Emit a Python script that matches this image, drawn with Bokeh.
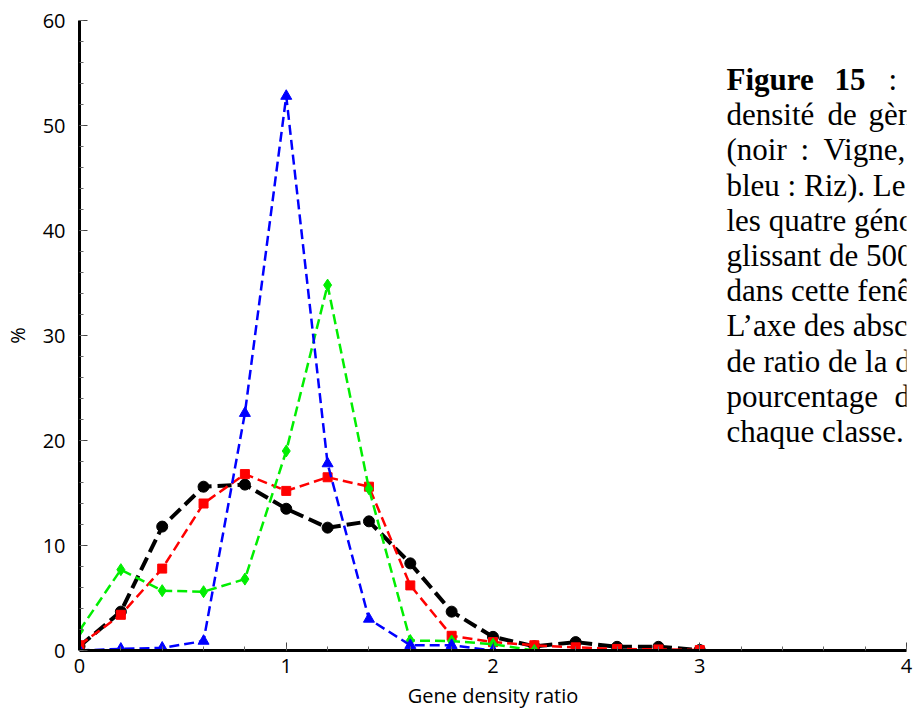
from bokeh.plotting import figure
from bokeh.models import Range1d, Label, SingleIntervalTicker
from bokeh.embed import file_html
from bokeh.resources import INLINE

# ---- data ----
x_vigne = [0.0, 0.2, 0.4, 0.6, 0.8, 1.0, 1.2, 1.4, 1.6, 1.8, 2.0, 2.2, 2.4, 2.6, 2.8, 3.0]
y_vigne = [0.4, 3.7, 11.8, 15.6, 15.8, 13.5, 11.7, 12.3, 8.3, 3.7, 1.3, 0.4, 0.8, 0.35, 0.35, 0.05]

x_red = [0.0, 0.2, 0.4, 0.6, 0.8, 1.0, 1.2, 1.4, 1.6, 1.8, 2.0, 2.2, 2.4, 2.6, 2.8, 3.0]
y_red = [0.5, 3.4, 7.8, 14.0, 16.8, 15.2, 16.5, 15.6, 6.2, 1.4, 0.8, 0.5, 0.3, 0.15, 0.1, 0.05]

x_green = [0.0, 0.2, 0.4, 0.6, 0.8, 1.0, 1.2, 1.4, 1.6, 1.8, 2.0, 2.2]
y_green = [1.9, 7.7, 5.7, 5.6, 6.8, 19.0, 34.8, 15.4, 0.95, 0.9, 0.6, 0.0]

x_riz = [0.0, 0.2, 0.4, 0.6, 0.8, 1.0, 1.2, 1.4, 1.6, 1.8, 2.0]
y_riz = [0.0, 0.15, 0.25, 0.9, 22.6, 52.8, 17.8, 3.0, 0.5, 0.5, 0.0]

x_label = "Gene density ratio"
y_label = "%"

caption_lines = [
    [("Figure", True), ("15", True), (":", False)],
    [("densité", False), ("de", False), ("gèn", False)],
    [("(noir", False), (":", False), ("Vigne,", False)],
    [("bleu : Riz). Le", False)],
    [("les quatre géno", False)],
    [("glissant de 500", False)],
    [("dans cette fenê", False)],
    [("L’axe des absc", False)],
    [("de ratio de la d", False)],
    [("pourcentage", False), ("d", False)],
    [("chaque classe.", False)],
]
# horizontal page positions of words on justified lines
word_x = {0: [724, 832, 886], 1: [724, 825, 866], 2: [724, 798, 821], 9: [724, 892]}

# ---- geometry (page pixels) ----
W, H = 913, 711
FL, FR, FT, FB = 77, 906, 20, 651

p = figure(width=W, height=H, output_backend="svg", toolbar_location=None,
           x_range=Range1d(0, 4.0), y_range=Range1d(0, 60.0),
           min_border_left=FL, min_border_right=W - FR,
           min_border_top=FT, min_border_bottom=H - FB)
p.outline_line_color = None
p.xgrid.visible = False
p.ygrid.visible = False
p.background_fill_color = "white"
p.border_fill_color = "white"

for ax in (p.xaxis[0], p.yaxis[0]):
    ax.axis_line_width = 3
    ax.axis_line_color = "black"
    ax.major_tick_in = 8
    ax.major_tick_out = 0
    ax.minor_tick_in = 4
    ax.minor_tick_out = 0
    ax.major_tick_line_color = "#444444"
    ax.minor_tick_line_color = "#666666"
    ax.major_tick_line_width = 1
    ax.minor_tick_line_width = 1
    ax.major_label_text_font = "Open Sans"
    ax.major_label_text_font_size = "20px"
    ax.major_label_text_color = "black"
    ax.axis_label_text_font = "Open Sans"
    ax.axis_label_text_font_size = "20px"
    ax.axis_label_text_font_style = "normal"
    ax.axis_label_text_color = "black"

p.xaxis[0].ticker = SingleIntervalTicker(interval=1, num_minor_ticks=5)
p.yaxis[0].ticker = SingleIntervalTicker(interval=10, num_minor_ticks=5)
p.xaxis[0].axis_label = x_label
p.yaxis[0].axis_label = y_label
p.xaxis[0].major_label_standoff = 8
p.yaxis[0].major_label_standoff = 14
p.xaxis[0].axis_label_standoff = 6
p.yaxis[0].axis_label_standoff = 9

# ---- series ----
p.line(x_vigne, y_vigne, line_color="black", line_width=4, line_dash="14 6")
p.scatter(x_vigne, y_vigne, marker="circle", size=11, fill_color="black", line_color="black")

p.line(x_red, y_red, line_color="#ff0000", line_width=2.5, line_dash="10 5")
p.scatter(x_red, y_red, marker="square", size=9, fill_color="#ff0000", line_color="#ff0000")

p.line(x_green, y_green, line_color="#00ee00", line_width=2.5, line_dash="10 5")
p.scatter(x_green, y_green, marker="diamond", size=12, fill_color="#00ee00", line_color="#00ee00")

p.line(x_riz, y_riz, line_color="#0000ff", line_width=2.5, line_dash="10 5")
p.scatter(x_riz, y_riz, marker="triangle", size=11, fill_color="#0000ff", line_color="#0000ff")

# ---- caption text (page coords -> frame screen coords) ----
base0 = 80
step = 35.2
for i, words in enumerate(caption_lines):
    ys = FB - (base0 + i * step)
    xs_list = word_x.get(i, [724])
    for j, (w, bold) in enumerate(words):
        xs = xs_list[j] - FL
        p.add_layout(Label(x=xs, y=ys, x_units="screen", y_units="screen", text=w,
                           text_font="Liberation Serif", text_font_size="31px",
                           text_font_style="bold" if bold else "normal",
                           text_color="black", text_baseline="alphabetic",
                           text_align="left"))

open("out.html", "w").write(file_html(p, INLINE))
